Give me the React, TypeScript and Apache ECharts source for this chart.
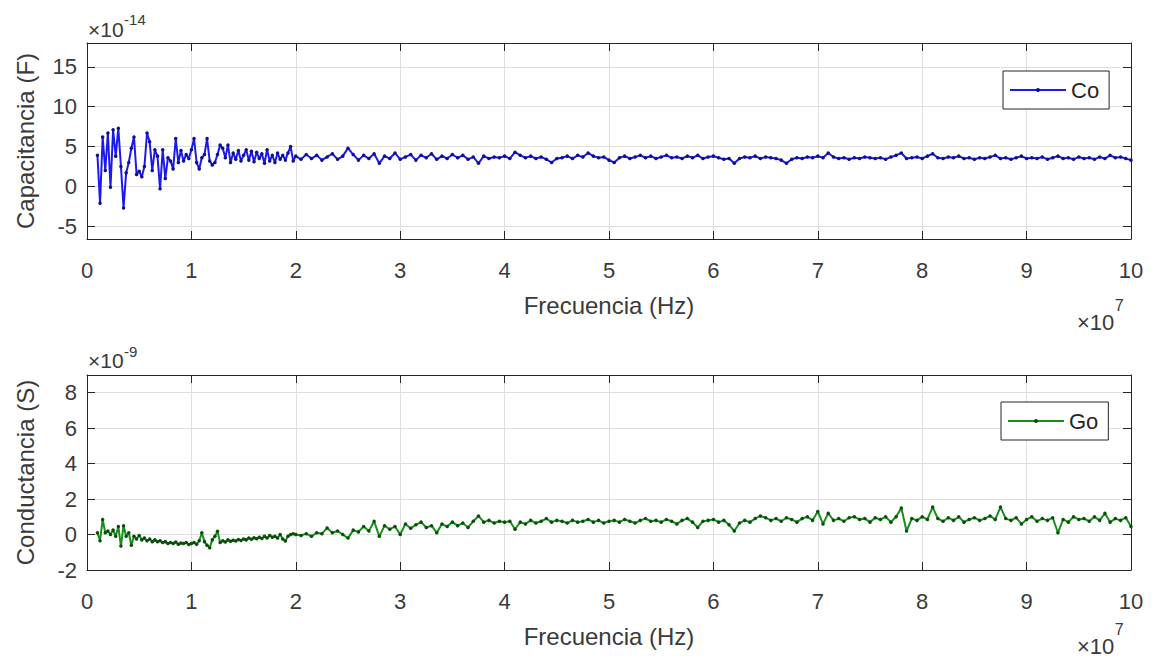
import React, { useEffect, useRef } from "react";
import * as echarts from "echarts";

// Frequency sweep (units of 1e7 Hz): two linear segments
const SWEEP_1 = { start: 0.1, step: 0.025, count: 77 };
const SWEEP_2 = { start: 2.05, step: 0.05, count: 160 };

const X_TICK_LABELS = ["0", "1", "2", "3", "4", "5", "6", "7", "8", "9", "10"];
const CAP_TICKS = [-5, 0, 5, 10, 15];
const COND_TICKS = [-2, 0, 2, 4, 6, 8];

// Capacitance Co (x 1e-14 F)
const CAP_SEG1 = [
  3.9, -2.1, 6.2, 2.0, 6.7, -0.1, 7.1, 3.8, 7.3, 2.5,
  -2.7, 1.7, 3.0, 4.8, 6.2, 1.5, 1.9, 1.2, 2.5, 6.7,
  5.6, 2.0, 4.6, 3.8, -0.3, 4.6, 1.0, 3.6, 3.2, 2.2,
  6.0, 3.0, 4.5, 3.2, 4.0, 3.5, 4.6, 6.0, 3.0, 2.2,
  3.6, 4.0, 6.0, 3.2, 2.7, 3.0, 4.0, 5.2, 4.8, 3.6,
  5.2, 3.0, 4.2, 3.4, 4.5, 3.2, 3.9, 4.6, 3.3, 4.4,
  3.1, 4.3, 3.5, 4.1, 2.9, 4.6, 3.2, 3.9, 3.0, 4.2,
  3.4, 3.9, 3.3, 4.2, 5.0, 3.2, 3.8,
];
const CAP_SEG2 = [
  3.4, 4.0, 3.5, 3.9, 3.3, 3.7, 4.1, 3.4, 3.8, 4.8,
  4.0, 3.3, 3.9, 3.5, 4.1, 2.9, 3.8, 3.5, 4.2, 3.4,
  3.7, 4.0, 3.3, 3.9, 3.6, 4.1, 3.4, 3.8, 3.5, 4.0,
  3.6, 3.9, 3.4, 3.7, 2.9, 3.8, 3.5, 3.7, 3.6, 3.8,
  3.5, 4.3, 3.9, 3.6, 3.8, 3.5, 3.7, 3.4, 3.0, 3.5,
  3.6, 3.8, 3.5, 3.9, 3.7, 4.2, 3.8, 3.6, 3.7, 3.3,
  3.0, 3.6, 3.8, 3.5, 3.7, 3.9, 3.6, 3.8, 3.5, 3.7,
  3.9, 3.6, 3.7, 3.5, 3.8, 3.6, 3.9, 3.5, 3.7, 3.8,
  3.6, 3.4, 3.5, 2.9, 3.5, 3.7, 3.6, 3.8, 3.5, 3.7,
  3.6, 3.5, 3.3, 2.9, 3.4, 3.6, 3.5, 3.7, 3.6, 3.8,
  3.6, 4.2, 3.7, 3.5, 3.6, 3.4, 3.6, 3.5, 3.7, 3.6,
  3.5, 3.6, 3.4, 3.7, 3.9, 4.2, 3.5, 3.6, 3.7, 3.5,
  3.8, 4.1, 3.6, 3.5, 3.7, 3.6, 3.8, 3.5, 3.6, 3.4,
  3.6, 3.5, 3.7, 3.9, 3.5, 3.6, 3.4, 3.6, 3.8, 3.5,
  3.6, 3.5, 3.7, 3.4, 3.6, 3.8, 3.5, 3.6, 3.4, 3.7,
  3.5, 3.6, 3.4, 3.7, 3.5, 3.9, 3.6, 3.7, 3.5, 3.3,
];

// Conductance Go (x 1e-9 S)
const COND_SEG1 = [
  0.1, -0.35, 0.85, 0.1, 0.2, 0.0, 0.25, -0.1, 0.45, -0.65,
  0.5, -0.1, 0.1, -0.6, -0.1, -0.25, -0.05, -0.3, -0.2, -0.35,
  -0.25, -0.4, -0.3, -0.4, -0.35, -0.45, -0.4, -0.5, -0.45, -0.5,
  -0.42, -0.55, -0.48, -0.5, -0.45, -0.56, -0.5, -0.45, -0.55, -0.35,
  0.1, -0.4, -0.6, -0.75, -0.3, -0.1, 0.18, -0.45, -0.35, -0.42,
  -0.3, -0.38, -0.32, -0.36, -0.28, -0.33, -0.25, -0.3, -0.2, -0.26,
  -0.18, -0.24, -0.15, -0.22, -0.1, -0.2, -0.05, -0.15, -0.1, -0.2,
  0.0, -0.25, -0.37, -0.1, 0.0, 0.05, 0.0,
];
const COND_SEG2 = [
  -0.05, 0.05, -0.1, 0.1, 0.05, 0.37, 0.1, 0.2, 0.0, -0.2,
  0.25, 0.15, 0.45, 0.2, 0.75, -0.1, 0.5, 0.3, 0.45, 0.0,
  0.6, 0.35, 0.55, 0.7, 0.4, 0.5, 0.1, 0.6, 0.45, 0.7,
  0.5, 0.65, 0.4, 0.75, 1.05, 0.7, 0.8, 0.65, 0.75, 0.7,
  0.75, 0.3, 0.7, 0.6, 0.8, 0.65, 0.75, 0.9, 0.7, 0.8,
  0.75, 0.65, 0.8, 0.7, 0.75, 0.85, 0.7, 0.8, 0.65, 0.75,
  0.8, 0.7, 0.85, 0.75, 0.65, 0.8, 0.9, 0.75, 0.8, 0.7,
  0.85, 0.75, 0.6, 0.8, 0.9, 0.7, 0.4, 0.75, 0.8, 0.85,
  0.7, 0.8, 0.55, 0.2, 0.65, 0.8, 0.7, 0.9, 1.05, 0.95,
  0.8, 0.9, 0.75, 0.95, 0.85, 0.7, 0.9, 1.0, 0.8, 1.3,
  0.6, 1.2, 0.8, 0.9, 0.75, 0.95, 1.0, 0.85, 0.9, 0.7,
  0.95, 0.85, 1.0, 0.7, 1.0, 1.5, 0.2, 0.9, 0.8, 1.0,
  0.85, 1.55, 0.9, 0.75, 0.95, 0.8, 1.0, 0.7, 0.85, 0.95,
  0.8, 0.9, 1.05, 0.85, 1.55, 0.9, 0.8, 0.95, 0.6, 0.85,
  1.0, 0.75, 0.9, 0.8, 0.95, 0.1, 0.85, 0.7, 1.0, 0.85,
  0.9, 0.75, 1.0, 0.8, 1.2, 0.7, 0.9, 0.8, 0.95, 0.45,
];

function buildSweep(): number[] {
  const out: number[] = [];
  for (const seg of [SWEEP_1, SWEEP_2]) {
    for (let i = 0; i < seg.count; i++) {
      out.push(Math.round((seg.start + seg.step * i) * 1000) / 1000);
    }
  }
  return out;
}

const FONT = "'Liberation Sans', Arial, Helvetica, sans-serif";
const AXIS_COLOR = "#262626";
const LABEL_COLOR = "#3a3a3a";
const GRID_COLOR = "#dedede";

export default function App() {
  const ref = useRef<HTMLDivElement>(null);

  useEffect(() => {
    if (!ref.current) return;
    const chart = echarts.init(ref.current, undefined, { renderer: "svg" });
    const freq = buildSweep();
    const cap = CAP_SEG1.concat(CAP_SEG2);
    const cond = COND_SEG1.concat(COND_SEG2);
    const capData = freq.map((f, i) => [f, cap[i]]);
    const condData = freq.map((f, i) => [f, cond[i]]);

    const lineAx = { show: true, onZero: false, lineStyle: { color: AXIS_COLOR, width: 1 } };
    const tickIn = { show: true, inside: true, length: 8, lineStyle: { color: AXIS_COLOR, width: 1 } };
    const split = { show: true, lineStyle: { color: GRID_COLOR, width: 1 } };
    const lbl = { fontSize: 22, color: LABEL_COLOR, fontFamily: FONT };
    const nameStyle = { fontSize: 24, color: LABEL_COLOR, fontFamily: FONT };

    const xMain = (gridIndex: number) => ({
      type: "value",
      gridIndex,
      min: 0,
      max: 10,
      interval: 1,
      position: "bottom",
      axisLine: lineAx,
      axisTick: tickIn,
      splitLine: split,
      axisLabel: { ...lbl, margin: 20, formatter: (v: number) => X_TICK_LABELS[Math.round(v)] ?? "" },
      name: "Frecuencia (Hz)",
      nameLocation: "middle",
      nameGap: 54,
      nameTextStyle: nameStyle,
    });
    const xTop = (gridIndex: number) => ({
      type: "value",
      gridIndex,
      min: 0,
      max: 10,
      interval: 1,
      position: "top",
      axisLine: lineAx,
      axisTick: tickIn,
      splitLine: { show: false },
      axisLabel: { show: false },
    });

    const yCapCommon = { type: "value", gridIndex: 0, min: -6.6, max: 18 };
    const yCondCommon = { type: "value", gridIndex: 1, min: -2, max: 9, interval: 2 };

    const legendBase = {
      orient: "horizontal",
      itemWidth: 56,
      itemHeight: 5,
      padding: [8, 10, 8, 6],
      borderColor: AXIS_COLOR,
      borderWidth: 1,
      borderRadius: 0,
      backgroundColor: "#ffffff",
      textStyle: { fontSize: 22, color: AXIS_COLOR, fontFamily: FONT },
    };

    const expText = (x: number, y: number, exp: string, baseSize: number, expSize: number, dy: number) => [
      {
        type: "text",
        style: { x, y, text: "×10", fontSize: baseSize, fontFamily: FONT, fill: LABEL_COLOR, textVerticalAlign: "middle", textAlign: "left" },
      },
      {
        type: "text",
        style: {
          x: x + baseSize * 1.72,
          y: y - dy,
          text: exp,
          fontSize: expSize,
          fontFamily: FONT,
          fill: LABEL_COLOR,
          textVerticalAlign: "middle",
          textAlign: "left",
        },
      },
    ];

    chart.setOption({
      animation: false,
      backgroundColor: "#ffffff",
      grid: [
        { left: 87, right: 27, top: 43, height: 196 },
        { left: 87, right: 27, top: 375, height: 195 },
      ],
      xAxis: [xMain(0), xTop(0), xMain(1), xTop(1)],
      yAxis: [
        {
          ...yCapCommon,
          position: "left",
          axisLine: lineAx,
          axisTick: { ...tickIn, customValues: CAP_TICKS },
          splitLine: split,
          axisLabel: { ...lbl, margin: 10, customValues: CAP_TICKS },
          name: "Capacitancia (F)",
          nameLocation: "middle",
          nameGap: 50,
          nameTextStyle: nameStyle,
        },
        {
          ...yCapCommon,
          position: "right",
          axisLine: lineAx,
          axisTick: { ...tickIn, customValues: CAP_TICKS },
          splitLine: { show: false },
          axisLabel: { show: false },
        },
        {
          ...yCondCommon,
          position: "left",
          axisLine: lineAx,
          axisTick: tickIn,
          splitLine: split,
          axisLabel: { ...lbl, margin: 10, formatter: (v: number) => (COND_TICKS.includes(v) ? String(v) : "") },
          name: "Conductancia (S)",
          nameLocation: "middle",
          nameGap: 50,
          nameTextStyle: nameStyle,
        },
        {
          ...yCondCommon,
          position: "right",
          axisLine: lineAx,
          axisTick: tickIn,
          splitLine: { show: false },
          axisLabel: { show: false },
        },
      ],
      legend: [
        { ...legendBase, data: ["Co"], left: 1003, top: 71 },
        { ...legendBase, data: ["Go"], left: 1001, top: 402 },
      ],
      series: [
        {
          name: "Co",
          type: "line",
          xAxisIndex: 0,
          yAxisIndex: 0,
          data: capData,
          symbol: "circle",
          symbolSize: 3.5,
          showSymbol: true,
          lineStyle: { color: "#1a1af0", width: 2 },
          itemStyle: { color: "#10108a" },
          z: 3,
        },
        {
          name: "Go",
          type: "line",
          xAxisIndex: 2,
          yAxisIndex: 2,
          data: condData,
          symbol: "circle",
          symbolSize: 3.5,
          showSymbol: true,
          lineStyle: { color: "#16901a", width: 2 },
          itemStyle: { color: "#0b4d0b" },
          z: 3,
        },
      ],
      graphic: [
        ...expText(88, 29, "-14", 21, 15, 10),
        ...expText(88, 360, "-9", 21, 15, 9),
        ...expText(1077, 322, "7", 22, 16, 17),
        ...expText(1077, 646, "7", 22, 16, 17),
      ],
    });

    return () => chart.dispose();
  }, []);

  return (
    <div
      ref={ref}
      style={{ position: "fixed", left: 0, top: 0, width: 1158, height: 662, background: "#fff" }}
    />
  );
}
